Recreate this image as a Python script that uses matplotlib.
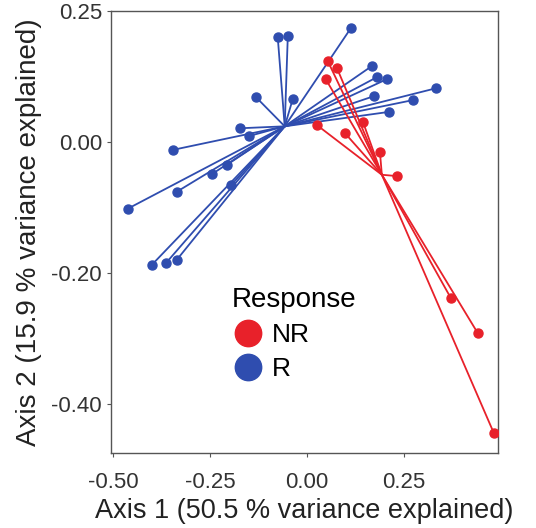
import matplotlib.pyplot as plt
from matplotlib.lines import Line2D

plt.rcParams['font.family'] = ['Liberation Sans', 'DejaVu Sans']

# PCoA coordinates
nr_centroid = (0.194, -0.050)
r_centroid = (-0.057, 0.024)

nr_x = [0.054, 0.078, 0.049, 0.026, 0.145, 0.098, 0.189, 0.233, 0.372, 0.442, 0.483]
nr_y = [0.124, 0.113, 0.096, 0.026, 0.031, 0.014, -0.015, -0.052, -0.238, -0.292, -0.444]

r_x = [-0.075, -0.049, 0.114, -0.132, -0.036, -0.173, -0.150, -0.346, -0.207, -0.245,
       -0.336, -0.196, -0.463, -0.401, -0.364, -0.336, 0.168, 0.181, 0.207, 0.333,
       0.274, 0.173, 0.212]
r_y = [0.160, 0.162, 0.174, 0.069, 0.066, 0.021, 0.009, -0.012, -0.035, -0.049,
       -0.076, -0.066, -0.102, -0.188, -0.185, -0.180, 0.116, 0.099, 0.096, 0.082,
       0.064, 0.070, 0.046]

y_ticks = [0.2, 0.0, -0.2, -0.4]
y_labels = ['0.25', '0.00', '-0.20', '-0.40']
x_ticks = [-0.50, -0.25, 0.00, 0.25]
x_labels = ['-0.50', '-0.25', '0.00', '0.25']

RED = '#E8212A'
BLUE = '#2F4DAF'

fig = plt.figure(figsize=(5.36, 5.28), dpi=100)
ax = fig.add_axes([0.207, 0.142, 0.722, 0.837])


def spider(xs, ys, centre, color):
    cx, cy = centre
    for x, y in zip(xs, ys):
        ax.plot([cx, x], [cy, y], color=color, lw=1.3, solid_capstyle='round', zorder=2)
    ax.plot(xs, ys, 'o', color=color, markersize=6.5, zorder=3)


spider(r_x, r_y, r_centroid, BLUE)
spider(nr_x, nr_y, nr_centroid, RED)

ax.set_xlim(-0.506, 0.494)
ax.set_ylim(-0.475, 0.2)
ax.set_xticks(x_ticks)
ax.set_xticklabels(x_labels)
ax.set_yticks(y_ticks)
ax.set_yticklabels(y_labels)
ax.tick_params(labelsize=16, color='#555555', length=3, labelcolor='#333333')
ax.tick_params(axis='x', pad=11)
for s in ax.spines.values():
    s.set_color('#555555')
    s.set_linewidth(1.0)

ax.set_xlabel('Axis 1 (50.5 % variance explained)', fontsize=19.5, color='#222222', labelpad=3)
ax.set_ylabel('Axis 2 (15.9 % variance explained)', fontsize=20, color='#222222', labelpad=7)

handles = [
    Line2D([], [], marker='o', linestyle='', color=RED, markersize=19, label='NR'),
    Line2D([], [], marker='o', linestyle='', color=BLUE, markersize=19, label='R'),
]
leg = ax.legend(handles=handles, title='Response', loc='upper left',
                bbox_to_anchor=(0.313, 0.375), frameon=False, fontsize=19,
                title_fontsize=20, handlelength=1.2, handletextpad=0.3,
                labelspacing=0.38, borderpad=0, borderaxespad=0)
leg._legend_box.align = 'left'

fig.savefig('out.png', dpi=100)
